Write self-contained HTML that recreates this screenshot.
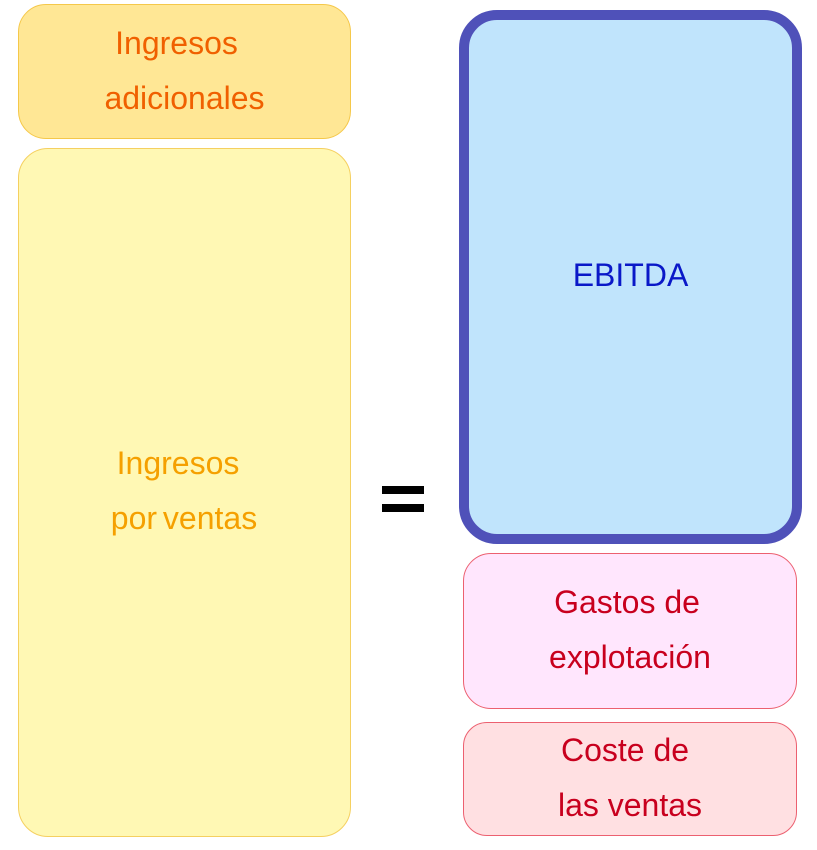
<!DOCTYPE html>
<html><head><meta charset="utf-8"><style>
body{margin:0;width:817px;height:850px;background:#fff;position:relative;overflow:hidden;font-family:"Liberation Sans",sans-serif}
.b{position:absolute;box-sizing:border-box}
.t{position:absolute;left:0;right:0;text-align:center;font-size:32px;line-height:32px;white-space:nowrap}
</style></head><body>
<div class="b" style="left:18px;top:4px;width:333px;height:135px;background:#ffe795;border:1.5px solid #f5c84a;border-radius:28px"></div>
<div class="t" style="left:10px;width:333px;right:auto;top:27px;color:#f06000">Ingresos</div>
<div class="t" style="left:18px;width:333px;right:auto;top:82px;color:#f06000">adicionales</div>

<div class="b" style="left:18px;top:148px;width:333px;height:689px;background:#fff8b4;border:1.5px solid #f5d060;border-radius:30px"></div>
<div class="t" style="left:18px;width:320px;right:auto;top:447px;color:#f5a000">Ingresos</div>
<div class="t" style="left:18px;width:332px;right:auto;top:502px;color:#f5a000;word-spacing:-3px">por ventas</div>

<div class="b" style="left:382px;top:486px;width:42px;height:8px;background:#000"></div>
<div class="b" style="left:382px;top:504px;width:42px;height:8px;background:#000"></div>

<div class="b" style="left:459px;top:10px;width:343px;height:534px;background:#c0e4fc;border:10px solid #4f51b9;border-radius:38px"></div>
<div class="t" style="left:459px;width:343px;right:auto;top:259px;color:#0a18c8">EBITDA</div>

<div class="b" style="left:463px;top:553px;width:334px;height:156px;background:#ffe6fd;border:1.5px solid #ec6070;border-radius:28px"></div>
<div class="t" style="left:460px;width:334px;right:auto;top:586px;color:#c8001e">Gastos de</div>
<div class="t" style="left:463px;width:334px;right:auto;top:641px;color:#c8001e">explotación</div>

<div class="b" style="left:463px;top:722px;width:334px;height:114px;background:#ffe0e2;border:1.5px solid #ec6070;border-radius:24px"></div>
<div class="t" style="left:463px;width:324px;right:auto;top:734px;color:#c8001e">Coste de</div>
<div class="t" style="left:463px;width:334px;right:auto;top:789px;color:#c8001e">las ventas</div>
</body></html>
